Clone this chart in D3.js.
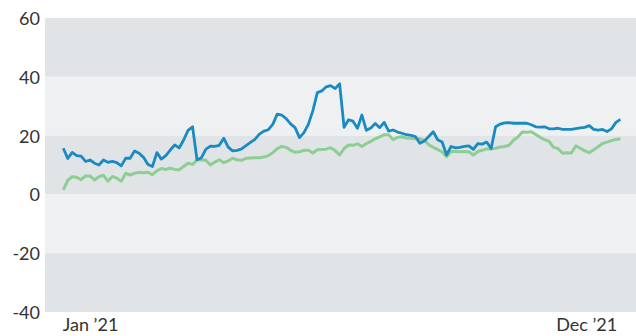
<!DOCTYPE html>
<html>
<head>
<meta charset="utf-8">
<script src="https://cdn.jsdelivr.net/npm/d3@7"></script>
<style>
  html, body { margin: 0; padding: 0; background: #ffffff; }
  svg { display: block; }
  .tick text { font-family: Lato, "Open Sans", sans-serif; fill: #333333; }
</style>
</head>
<body>
<svg id="chart" width="636" height="336"></svg>
<script>
// Observations every 3 calendar days starting 14 Dec 2020
const startDate = "2020-12-14";
const stepDays = 3;

const blueValues = [
  15.7, 12.2, 14.3, 13.2, 13.0, 11.2, 11.7, 10.6, 10.0, 11.7,
  10.9, 11.2, 10.8, 9.7, 12.3, 12.3, 14.8, 14.0, 12.6, 10.2,
  9.5, 14.2, 12.0, 13.2, 15.1, 16.8, 15.8, 18.5, 21.8, 23.0,
  11.8, 12.5, 15.4, 16.4, 16.3, 16.7, 19.1, 16.1, 14.8, 15.0,
  15.5, 16.6, 17.7, 18.7, 20.5, 21.5, 22.0, 23.8, 27.3, 27.0,
  25.8, 24.0, 22.7, 19.3, 21.0, 23.9, 28.5, 34.6, 35.2, 36.6,
  37.0, 36.0, 37.6, 22.8, 25.4, 24.9, 22.5, 27.0, 21.8, 22.6,
  24.1, 22.7, 24.5, 21.5, 21.9, 21.2, 20.8, 20.3, 20.1, 19.7,
  17.4, 18.2, 19.7, 21.3, 18.6, 17.8, 13.4, 16.3, 15.8, 16.0,
  16.3, 16.5, 15.3, 17.3, 17.1, 17.8, 15.6, 23.0, 23.9, 24.3,
  24.4, 24.2, 24.2, 24.2, 24.2, 23.7, 23.0, 22.9, 23.0, 22.3,
  22.3, 22.5, 22.1, 22.1, 22.1, 22.4, 22.6, 22.8, 23.4, 22.1,
  21.9, 22.1, 21.4, 22.3, 24.5, 25.5
];

const greenValues = [
  1.5, 4.8, 6.0, 5.8, 5.0, 6.3, 6.3, 4.9, 6.0, 6.5,
  4.5, 6.1, 5.5, 4.5, 7.2, 6.6, 7.2, 7.5, 7.4, 7.5,
  6.7, 8.0, 8.8, 8.5, 8.9, 8.5, 8.4, 9.5, 10.6, 10.2,
  11.7, 11.7, 11.6, 10.0, 11.0, 11.8, 10.8, 11.4, 12.3, 11.8,
  11.6, 12.3, 12.4, 12.5, 12.5, 12.7, 13.2, 14.2, 15.6, 16.3,
  16.0, 15.0, 14.3, 14.5, 15.0, 15.0, 14.1, 15.2, 15.3, 15.4,
  15.9, 14.9, 13.4, 15.6, 16.8, 16.7, 17.2, 16.3, 17.3, 18.0,
  18.9, 19.6, 20.3, 20.3, 18.6, 19.4, 19.6, 19.2, 19.1, 18.9,
  19.0, 18.4, 16.9, 16.0, 15.3, 14.4, 12.8, 14.6, 14.6, 14.5,
  14.6, 14.5, 13.4, 14.6, 15.0, 15.5, 15.4, 15.7, 16.1, 16.3,
  16.7, 18.4, 19.5, 21.2, 21.1, 21.3, 20.4, 19.4, 18.6, 18.0,
  16.0, 15.6, 14.0, 14.2, 14.1, 16.5, 15.7, 14.8, 14.2, 15.2,
  16.2, 17.3, 17.8, 18.3, 18.7, 18.9
];

const yTicks = [60, 40, 20, 0, -20, -40];
const xTickDates = ["2021-01-01", "2021-12-01"];
const xTickLabels = ["Jan \u201921", "Dec \u201921"];

const parse = d3.utcParse("%Y-%m-%d");
const t0 = parse(startDate);
const dates = blueValues.map((_, i) => d3.utcDay.offset(t0, i * stepDays));

const width = 636, height = 336;
const margin = { top: 18, right: 0, bottom: 24, left: 45 };
const plotRight = width - margin.right;
const plotBottom = height - margin.bottom;

const svg = d3.select("#chart");

const x = d3.scaleUtc()
  .domain([dates[0], dates[dates.length - 1]])
  .range([margin.left + 18.3, 620.4]);

const y = d3.scaleLinear()
  .domain([-40, 60])
  .range([plotBottom, margin.top]);

// Alternating horizontal bands between y ticks
const bandEdges = d3.pairs(yTicks);
svg.append("g")
  .selectAll("rect")
  .data(bandEdges)
  .join("rect")
  .attr("x", margin.left)
  .attr("width", plotRight - margin.left)
  .attr("y", d => y(d[0]))
  .attr("height", d => y(d[1]) - y(d[0]))
  .attr("fill", (d, i) => i % 2 === 0 ? "#e1e4e7" : "#eef0f2");

// Y axis labels (plain hyphen for negatives)
const yAxis = d3.axisLeft(y)
  .tickValues(yTicks)
  .tickSize(0)
  .tickPadding(5)
  .tickFormat(d => String(d));
svg.append("g")
  .attr("transform", `translate(${margin.left},0)`)
  .call(yAxis)
  .call(g => g.select(".domain").remove())
  .call(g => g.selectAll("text").attr("font-size", 18).attr("dy", "0.36em"));

// X axis labels
const xAxis = d3.axisBottom(x)
  .tickValues(xTickDates.map(parse))
  .tickSize(0)
  .tickPadding(6)
  .tickFormat((d, i) => xTickLabels[i]);
svg.append("g")
  .attr("transform", `translate(0,${plotBottom})`)
  .call(xAxis)
  .call(g => g.select(".domain").remove())
  .call(g => g.selectAll("text").attr("font-size", 18));

const line = d3.line()
  .x((d, i) => x(dates[i]))
  .y(d => y(d));

svg.append("path")
  .datum(greenValues)
  .attr("fill", "none")
  .attr("stroke", "#8ecd93")
  .attr("stroke-width", 3)
  .attr("stroke-linejoin", "round")
  .attr("d", line);

svg.append("path")
  .datum(blueValues)
  .attr("fill", "none")
  .attr("stroke", "#1a8bc1")
  .attr("stroke-width", 2.8)
  .attr("stroke-linejoin", "round")
  .attr("d", line);
</script>
</body>
</html>
